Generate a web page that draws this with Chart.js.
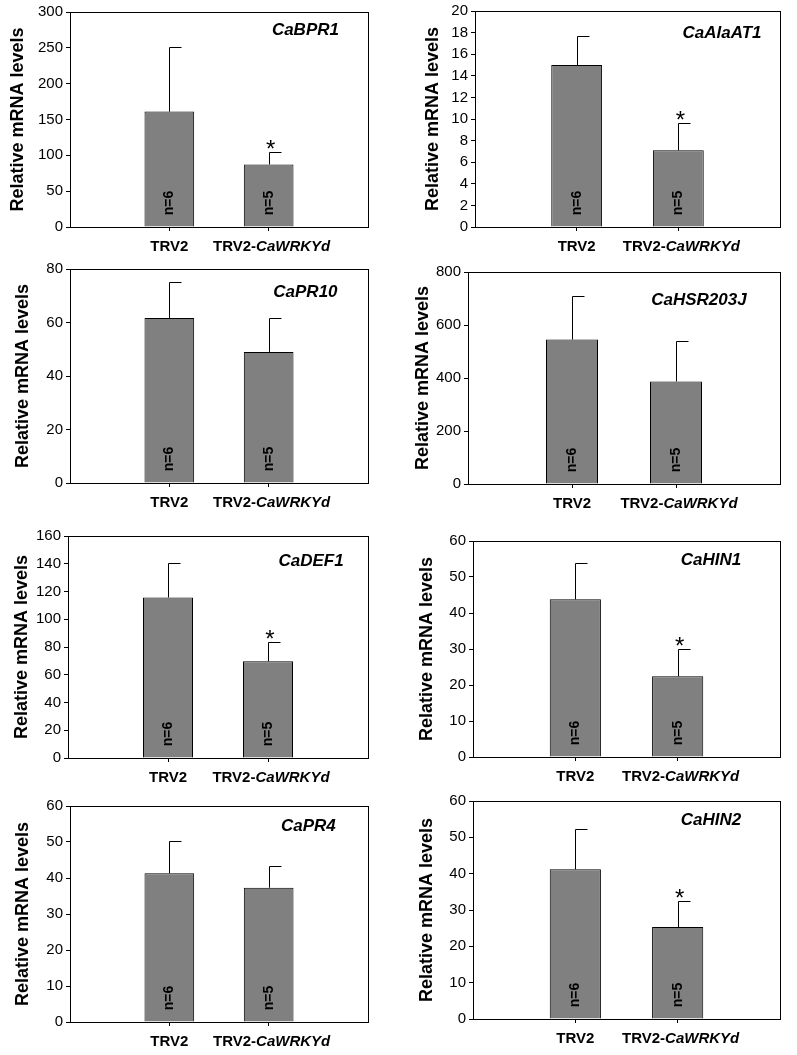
<!DOCTYPE html>
<html>
<head>
<meta charset="utf-8">
<script src="https://cdn.jsdelivr.net/npm/chart.js@4.4.0/dist/chart.umd.min.js"></script>
<style>
  html, body { margin: 0; padding: 0; background: #fff; }
  #figure { position: relative; width: 797px; height: 1055px; overflow: hidden; background: #fff; }
  #figure canvas { position: absolute; }
</style>
</head>
<body>
<div id="figure"></div>
<script>
// data
const categories = ['TRV2', 'TRV2-CaWRKYd'];
const sampleSizes = ['n=6', 'n=5'];
const genes = ['CaBPR1', 'CaAlaAT1', 'CaPR10', 'CaHSR203J', 'CaDEF1', 'CaHIN1', 'CaPR4', 'CaHIN2'];
const trv2Means = [161, 15, 61.7, 545, 115.7, 43.8, 41.3, 41.2];
const trv2Errors = [90, 2.7, 13.4, 165, 24.9, 10.1, 9.0, 11.0];
const wrkyMeans = [87.3, 7.1, 49.0, 387, 69.7, 22.4, 37.3, 25.3];
const wrkyErrors = [17.7, 2.5, 12.7, 154, 14.1, 7.6, 6.1, 7.1];
const significant = [true, true, false, false, true, true, false, true];
const yMax = [300, 20, 80, 800, 160, 60, 60, 60];
const yStep = [50, 2, 20, 200, 20, 10, 10, 10];

const FONT = '"Liberation Sans", Arial, sans-serif';

// where each panel sits on the page: plot box [left, top, right, bottom],
// centre of the y title, and where the gene name goes inside the box
const panels = [
  { plot: [70, 12, 368, 227], yTitleX: 18, gx: 0.79, gy: 18 },
  { plot: [475, 11, 780, 227], yTitleX: 433, gx: 0.81, gy: 22 },
  { plot: [70, 269, 368, 483], yTitleX: 23, gx: 0.79, gy: 23 },
  { plot: [468, 272, 780, 484], yTitleX: 423, gx: 0.74, gy: 28 },
  { plot: [68, 536, 368, 758], yTitleX: 22, gx: 0.81, gy: 25 },
  { plot: [473, 541, 780, 757], yTitleX: 427, gx: 0.775, gy: 19 },
  { plot: [70, 806, 368, 1022], yTitleX: 23, gx: 0.80, gy: 20 },
  { plot: [473, 801, 780, 1019], yTitleX: 427, gx: 0.775, gy: 19 }
];

// frame, error bars, n= labels, asterisks, x labels and gene names
const decorPlugin = {
  id: 'decor',
  afterDatasetsDraw(chart) {
    const i = chart.options.plugins.decor.panel;
    const ctx = chart.ctx;
    const a = chart.chartArea;
    const y = chart.scales.y;
    const x = chart.scales.x;
    const bars = chart.getDatasetMeta(0).data;
    const means = [trv2Means[i], wrkyMeans[i]];
    const errs = [trv2Errors[i], wrkyErrors[i]];
    const zero = y.getPixelForValue(0);

    ctx.save();
    ctx.strokeStyle = '#000';
    ctx.lineWidth = 1;
    ctx.strokeRect(Math.round(a.left) + 0.5, Math.round(a.top) + 0.5,
      Math.round(a.right - a.left), Math.round(a.bottom - a.top));

    ctx.fillStyle = '#000';
    for (let k = 0; k < 2; k++) {
      const bar = bars[k + 1];
      const bx = Math.round(bar.x) + 0.5;
      const top = y.getPixelForValue(means[k] + errs[k]);
      const yb = y.getPixelForValue(means[k]);
      // error bar with a half cap to the right
      ctx.beginPath();
      ctx.moveTo(bx, yb);
      ctx.lineTo(bx, Math.round(top) + 0.5);
      ctx.lineTo(bx + 12, Math.round(top) + 0.5);
      ctx.stroke();

      // n= label, rotated
      ctx.save();
      ctx.translate(bar.x, zero - 24);
      ctx.rotate(-Math.PI / 2);
      ctx.font = 'bold 14px ' + FONT;
      ctx.textAlign = 'center';
      ctx.textBaseline = 'middle';
      ctx.fillText(sampleSizes[k], 0, 0);
      ctx.restore();

      if (k === 1 && significant[i]) {
        ctx.font = '24px ' + FONT;
        ctx.textAlign = 'center';
        ctx.textBaseline = 'alphabetic';
        ctx.fillText('*', bar.x + 2, top + 5);
      }

      // x labels (second one has italic gene name)
      const lx = x.getPixelForValue(k + 1);
      const ly = zero + 20;
      ctx.textBaseline = 'middle';
      if (k === 0) {
        ctx.font = 'bold 15px ' + FONT;
        ctx.textAlign = 'center';
        ctx.fillText(categories[0], lx, ly);
      } else {
        const head = categories[1].slice(0, 5);
        const tail = categories[1].slice(5);
        ctx.font = 'bold 15px ' + FONT;
        const w1 = ctx.measureText(head).width;
        ctx.font = 'italic bold 15px ' + FONT;
        const w2 = ctx.measureText(tail).width;
        const sx = lx + 3 - (w1 + w2) / 2;
        ctx.textAlign = 'left';
        ctx.font = 'bold 15px ' + FONT;
        ctx.fillText(head, sx, ly);
        ctx.font = 'italic bold 15px ' + FONT;
        ctx.fillText(tail, sx + w1, ly);
      }
    }

    // gene name
    const p = panels[i];
    ctx.font = 'italic bold 17px ' + FONT;
    ctx.textAlign = 'center';
    ctx.textBaseline = 'middle';
    ctx.fillText(genes[i], a.left + p.gx * (a.right - a.left), a.top + p.gy);
    ctx.restore();
  }
};

const fig = document.getElementById('figure');

panels.forEach((p, i) => {
  const [l, t, r, b] = p.plot;
  const cl = Math.round(p.yTitleX - 11);
  const ct = t - 14;
  const cw = r + 8 - cl;
  const ch = b + 42 - ct;

  const canvas = document.createElement('canvas');
  canvas.width = cw;
  canvas.height = ch;
  canvas.style.left = cl + 'px';
  canvas.style.top = ct + 'px';
  canvas.style.width = cw + 'px';
  canvas.style.height = ch + 'px';
  fig.appendChild(canvas);

  new Chart(canvas, {
    type: 'bar',
    data: {
      labels: ['', ...categories, ''],
      datasets: [{
        data: [null, trv2Means[i], wrkyMeans[i], null],
        backgroundColor: '#808080',
        borderColor: '#000',
        borderWidth: 1,
        categoryPercentage: 1,
        barPercentage: 0.5
      }]
    },
    options: {
      responsive: false,
      animation: false,
      layout: { padding: { top: 14, right: 8, bottom: 2, left: 0 } },
      plugins: {
        legend: { display: false },
        tooltip: { enabled: false },
        decor: { panel: i }
      },
      scales: {
        x: {
          offset: false,
          ticks: { display: false },
          grid: {
            offset: false,
            drawOnChartArea: false,
            drawTicks: true,
            tickLength: 4,
            color: c => (c.index === 1 || c.index === 2) ? '#000' : 'rgba(0,0,0,0)'
          },
          border: { display: false },
          afterFit: s => { s.height = 40; }
        },
        y: {
          min: 0,
          max: yMax[i],
          ticks: {
            stepSize: yStep[i],
            color: '#000',
            padding: 3,
            font: { family: FONT, size: 15 }
          },
          grid: { drawOnChartArea: false, drawTicks: true, tickLength: 4, color: '#000' },
          border: { display: false },
          title: {
            display: true,
            text: 'Relative mRNA levels',
            color: '#000',
            padding: 0,
            font: { family: FONT, size: 18, weight: 'bold' }
          },
          afterFit: s => { s.width = l - cl; }
        }
      }
    },
    plugins: [decorPlugin]
  });
});
</script>
</body>
</html>
